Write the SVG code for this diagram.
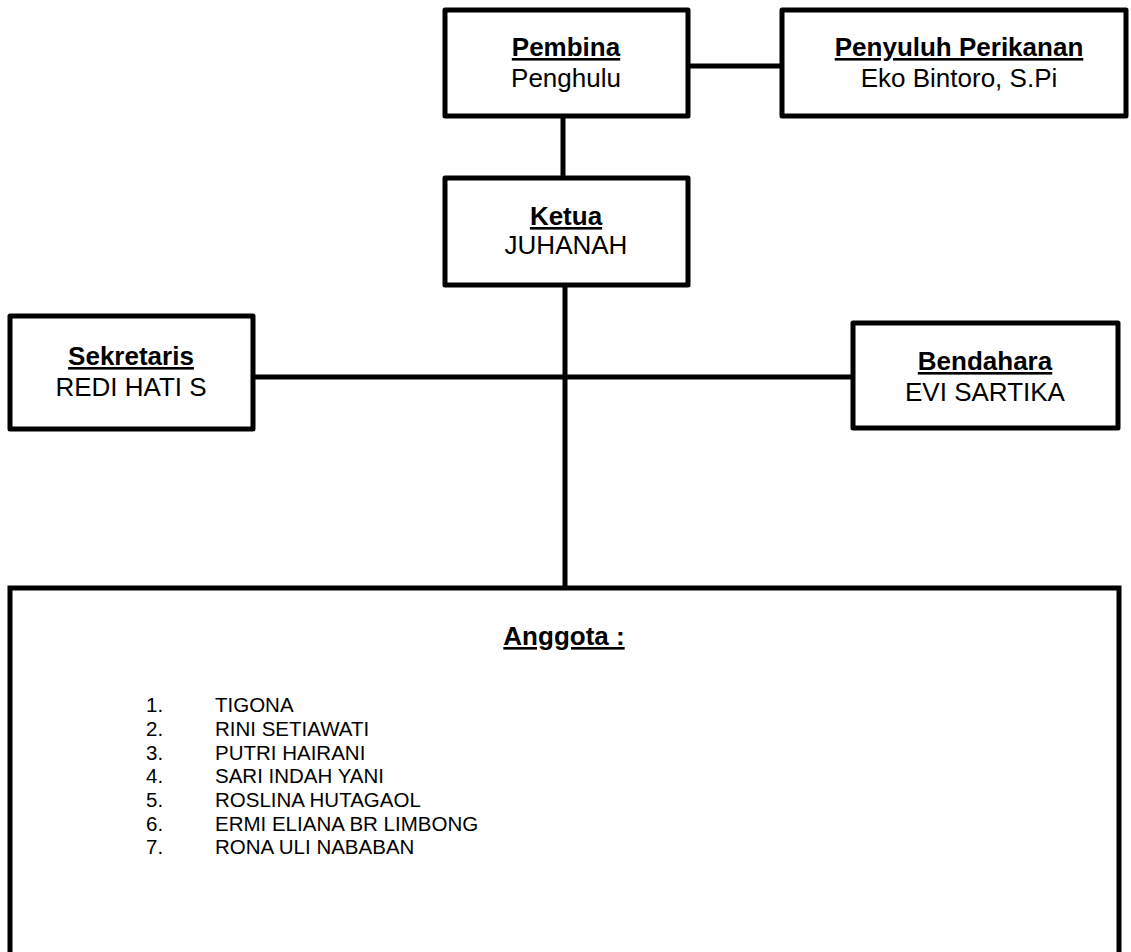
<svg xmlns="http://www.w3.org/2000/svg" width="1131" height="952" viewBox="0 0 1131 952">
<style>
.box{fill:#fff;stroke:#000;stroke-width:5;stroke-linejoin:round}
.ln{stroke:#000;stroke-width:5;fill:none}
text{font-family:"Liberation Sans",Arial,sans-serif;fill:#000}
.t{font-size:26px;text-anchor:middle}
.b{font-weight:bold;text-decoration:underline}
.li{font-size:20.5px}
</style>
<rect width="1131" height="952" fill="#fff"/>
<g id="connectors">
<line class="ln" x1="688" y1="66" x2="782" y2="66"/>
<line class="ln" x1="563" y1="116" x2="563" y2="178"/>
<line class="ln" x1="565" y1="285" x2="565" y2="588"/>
<line class="ln" x1="253" y1="377" x2="853" y2="377"/>
</g>
<g id="pembina">
<rect class="box" x="445" y="10" width="243" height="106"/>
<text class="t b" x="566" y="56">Pembina</text>
<text class="t" x="566" y="87">Penghulu</text>
</g>
<g id="penyuluh">
<rect class="box" x="782" y="10" width="344" height="106"/>
<text class="t b" x="959" y="56">Penyuluh Perikanan</text>
<text class="t" x="959" y="87">Eko Bintoro, S.Pi</text>
</g>
<g id="ketua">
<rect class="box" x="445" y="178" width="243" height="107"/>
<text class="t b" x="566" y="225">Ketua</text>
<text class="t" x="566" y="254">JUHANAH</text>
</g>
<g id="sekretaris">
<rect class="box" x="10" y="316" width="243" height="113"/>
<text class="t b" x="131" y="365">Sekretaris</text>
<text class="t" x="131" y="396">REDI HATI S</text>
</g>
<g id="bendahara">
<rect class="box" x="853" y="323" width="265" height="105"/>
<text class="t b" x="985" y="370">Bendahara</text>
<text class="t" x="985" y="401">EVI SARTIKA</text>
</g>
<g id="anggota">
<path class="ln" d="M10,960 V588 H1119 V960"/>
<text class="t b" x="564" y="645">Anggota :</text>
<g class="li">
<text x="146" y="712">1.</text><text x="215" y="712">TIGONA</text>
<text x="146" y="736">2.</text><text x="215" y="736">RINI SETIAWATI</text>
<text x="146" y="760">3.</text><text x="215" y="760">PUTRI HAIRANI</text>
<text x="146" y="783">4.</text><text x="215" y="783">SARI INDAH YANI</text>
<text x="146" y="807">5.</text><text x="215" y="807">ROSLINA HUTAGAOL</text>
<text x="146" y="831">6.</text><text x="215" y="831">ERMI ELIANA BR LIMBONG</text>
<text x="146" y="854">7.</text><text x="215" y="854">RONA ULI NABABAN</text>
</g>
</g>
</svg>
